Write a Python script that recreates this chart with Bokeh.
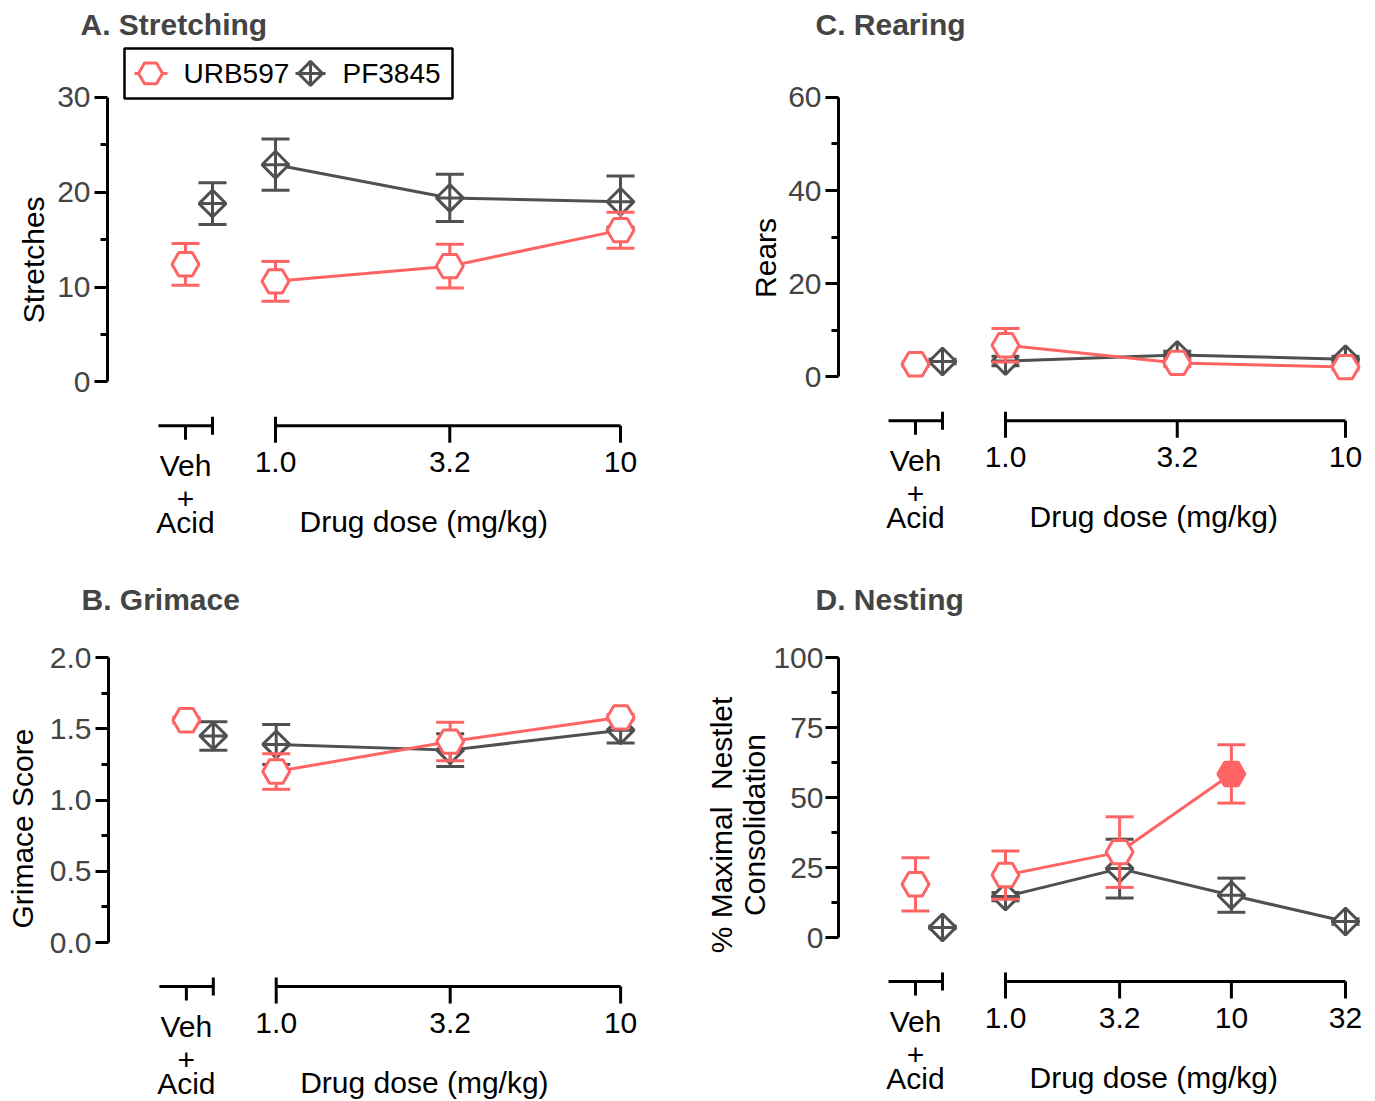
import numpy as np
from bokeh.plotting import figure
from bokeh.layouts import column, row
from bokeh.models import FixedTicker, PrintfTickFormatter
from bokeh.core.properties import value
from bokeh.embed import file_html
from bokeh.resources import INLINE

FONT = "Liberation Sans"
URB_COLOR = "#FF6464"
PF_COLOR = "#505050"

# ---------------- data ----------------
doses_3 = [1.0, 3.2, 10.0]
doses_4 = [1.0, 3.2, 10.0, 32.0]
dose_labels_3 = ["1.0", "3.2", "10"]
dose_labels_4 = ["1.0", "3.2", "10", "32"]

# A. Stretching (stretches, mean and SEM)
stretch_veh_urb, stretch_veh_urb_sem = 12.4, 2.2
stretch_veh_pf, stretch_veh_pf_sem = 18.8, 2.2
stretch_urb = [10.6, 12.2, 16.0]
stretch_urb_sem = [2.1, 2.3, 1.9]
stretch_pf = [22.9, 19.4, 19.0]
stretch_pf_sem = [2.7, 2.5, 2.7]

# B. Grimace (score)
grim_veh_urb, grim_veh_urb_sem = 1.56, 0.02
grim_veh_pf, grim_veh_pf_sem = 1.45, 0.10
grim_urb = [1.20, 1.41, 1.58]
grim_urb_sem = [0.125, 0.135, 0.02]
grim_pf = [1.39, 1.35, 1.49]
grim_pf_sem = [0.14, 0.115, 0.09]

# C. Rearing (rears)
rear_veh_urb, rear_veh_urb_sem = 2.7, 0.5
rear_veh_pf, rear_veh_pf_sem = 3.3, 0.5
rear_urb = [6.8, 3.0, 2.1]
rear_urb_sem = [3.6, 0.8, 0.6]
rear_pf = [3.4, 4.7, 3.8]
rear_pf_sem = [1.0, 0.8, 0.6]

# D. Nesting (% maximal nestlet consolidation)
nest_veh_urb, nest_veh_urb_sem = 19.0, 9.5
nest_veh_pf, nest_veh_pf_sem = 3.6, 0.5
nest_urb = [22.3, 30.5, 58.4]
nest_urb_sem = [8.6, 12.6, 10.4]
nest_urb_filled = [False, False, True]
nest_pf = [14.6, 24.6, 15.1, 5.7]
nest_pf_sem = [1.5, 10.5, 6.1, 1.0]


def styled_text(p, xs, ys, texts, size="30px", align="center", baseline="middle",
                style="normal", angle=0):
    p.text(x=xs, y=ys, text=texts, text_font=value(FONT), text_font_size=size,
           text_align=align, text_baseline=baseline, text_color="black",
           text_font_style=style, angle=angle)


def bare_figure(W, H, xr, yr, **kw):
    p = figure(width=W, height=H, x_range=xr, y_range=yr, output_backend="svg",
               toolbar_location=None, x_axis_location=None, **kw)
    p.outline_line_color = None
    p.grid.visible = False
    p.background_fill_color = "white"
    p.border_fill_color = "white"
    return p


def ylabel_figure(lines, xs, y_px, W, H):
    # narrow strip holding the rotated y-axis title, centred on the bounded axis
    q = bare_figure(W, H, (0, W), (0, H), title=None, y_axis_location=None,
                    min_border_left=0, min_border_right=0, min_border_top=0, min_border_bottom=0)
    styled_text(q, xs, [H - y_px] * len(xs), lines, angle=np.pi / 2)
    return q


def draw_series(p, xs, means, sems, color, marker, size, angle, connect, fills=None):
    xs = list(xs)
    lo = [m - s for m, s in zip(means, sems)]
    hi = [m + s for m, s in zip(means, sems)]
    p.segment(x0=xs, y0=lo, x1=xs, y1=hi, line_color=color, line_width=3)
    p.scatter(x=xs + xs, y=lo + hi, marker="dash", size=28, line_color=color, line_width=3)
    if connect:
        p.line(x=xs, y=means, line_color=color, line_width=3)
    if fills is None:
        fills = ["white"] * len(xs)
    p.scatter(x=xs, y=means, marker=marker, size=size, angle=angle, line_color=color,
              fill_color=fills, line_width=3)


def build_panel(title, ylabel_lines, g, ymax, yticks, yminor, tick_fmt,
                veh_urb, veh_pf, doses, dose_labels, urb, urb_sem, pf, pf_sem,
                pf_doses=None, urb_fills=None, legend=False):
    W, H, Lw = g["w"], g["h"], g["label_w"]
    fl, ft = g["frame_left"], g["frame_top"]
    a1, aN = g["x1_px"], g["xN_px"]
    top_dose = (pf_doses or doses)[-1]
    sx = (aN - a1) / np.log10(top_dose)
    x_start = -(a1 - fl) / sx
    x_end = (W - a1) / sx
    p0, p1 = g["y0_px"], g["ytop_px"]
    sy = (p0 - p1) / ymax
    y_end = ymax + (p1 - ft) / sy
    y_start = -(H - p0) / sy

    def X(px):
        return x_start + (px - fl) / sx

    def Y(py):
        return y_end - (py - ft) / sy

    p = bare_figure(W - Lw, H, (x_start, x_end), (y_start, y_end),
                    min_border_left=fl - Lw, min_border_top=ft, min_border_right=0,
                    min_border_bottom=0)

    p.title.text = title
    p.title.text_font = FONT
    p.title.text_font_size = "30px"
    p.title.text_font_style = "bold"
    p.title.align = "left"
    p.title.offset = g["title_offset"]

    ax = p.yaxis[0]
    ax.bounds = (0, ymax)
    ax.ticker = FixedTicker(ticks=yticks, minor_ticks=yminor)
    if tick_fmt:
        ax.formatter = PrintfTickFormatter(format=tick_fmt)
    ax.axis_line_width = 3
    ax.major_tick_line_width = 3
    ax.minor_tick_line_width = 3
    ax.major_tick_out = 13
    ax.major_tick_in = 0
    ax.minor_tick_out = 7
    ax.minor_tick_in = 0
    ax.major_label_text_font = FONT
    ax.major_label_text_font_size = "30px"
    ax.major_label_standoff = g["tick_standoff"]

    # broken x axis: vehicle segment and dose segment
    ya = Y(p0 + 44)
    veh_l, veh_t, veh_r = X(a1 - 117), X(a1 - 90), X(a1 - 63)
    dose_x = [float(np.log10(d)) for d in (pf_doses or doses)]
    p.segment(x0=[veh_l, dose_x[0]], y0=[ya, ya], x1=[veh_r, dose_x[-1]], y1=[ya, ya],
              line_color="black", line_width=3)
    p.segment(x0=[veh_t, veh_r, dose_x[0]] + dose_x[1:],
              y0=[ya, Y(p0 + 35), Y(p0 + 35)] + [ya] * (len(dose_x) - 1),
              x1=[veh_t, veh_r, dose_x[0]] + dose_x[1:],
              y1=[Y(p0 + 58), Y(p0 + 53), Y(p0 + 61)] + [Y(p0 + 61)] * (len(dose_x) - 1),
              line_color="black", line_width=3)
    styled_text(p, dose_x, [Y(p0 + 80)] * len(dose_x), dose_labels)
    styled_text(p, [veh_t, veh_t, veh_t], [Y(p0 + 84), Y(p0 + 117), Y(p0 + 141)],
                ["Veh", "+", "Acid"])
    styled_text(p, [X(a1 + 24)], [Y(p0 + 140)], ["Drug dose (mg/kg)"], align="left")

    # PF3845 first, URB597 drawn over it
    draw_series(p, [X(a1 - 63)], [veh_pf[0]], [veh_pf[1]], PF_COLOR, "square_x", 19, np.pi / 4, False)
    draw_series(p, dose_x, pf, pf_sem, PF_COLOR, "square_x", 19, np.pi / 4, True)
    urb_x = [float(np.log10(d)) for d in doses]
    fills = None
    if urb_fills is not None:
        fills = [URB_COLOR if f else "white" for f in urb_fills]
    draw_series(p, [X(a1 - 90)], [veh_urb[0]], [veh_urb[1]], URB_COLOR, "hex", 27, 0, False)
    draw_series(p, urb_x, urb, urb_sem, URB_COLOR, "hex", 27, 0, True, fills)

    if legend:
        p.quad(left=[X(124)], right=[X(452)], top=[Y(47)], bottom=[Y(97)],
               fill_color="white", line_color="black", line_width=2.5)
        yl = Y(72)
        p.segment(x0=[X(134), X(295)], y0=[yl, yl], x1=[X(167), X(325)], y1=[yl, yl],
                  line_color=[URB_COLOR, PF_COLOR], line_width=3)
        p.scatter(x=[X(150)], y=[yl], marker="hex", size=24, line_color=URB_COLOR,
                  fill_color="white", line_width=3)
        p.scatter(x=[X(310)], y=[yl], marker="square_x", size=17, angle=np.pi / 4,
                  line_color=PF_COLOR, fill_color="white", line_width=3)
        styled_text(p, [X(183), X(342)], [yl, yl], ["URB597", "PF3845"], size="28px", align="left")

    lab = ylabel_figure(ylabel_lines, g["label_x"], g["label_y"], Lw, H)
    return row(lab, p)


geom_a = dict(w=687, h=560, label_w=50, frame_left=107, frame_top=44, x1_px=275, xN_px=620,
              y0_px=381, ytop_px=96, title_offset=-27, label_x=[33], label_y=233,
              tick_standoff=4)
geom_c = dict(w=688, h=560, label_w=98, frame_left=151, frame_top=44, x1_px=318, xN_px=658,
              y0_px=376, ytop_px=96, title_offset=-23, label_x=[78], label_y=231,
              tick_standoff=4)
geom_b = dict(w=687, h=541, label_w=46, frame_left=107, frame_top=60, x1_px=275, xN_px=620,
              y0_px=382, ytop_px=97, title_offset=-27, label_x=[22], label_y=234,
              tick_standoff=4)
geom_d = dict(w=688, h=541, label_w=83, frame_left=151, frame_top=60, x1_px=318, xN_px=658,
              y0_px=377, ytop_px=97, title_offset=-23, label_x=[34, 67], label_y=230,
              tick_standoff=2)

pa = build_panel("A. Stretching", ["Stretches"], geom_a, 30, [0, 10, 20, 30], [5, 15, 25], None,
                 (stretch_veh_urb, stretch_veh_urb_sem), (stretch_veh_pf, stretch_veh_pf_sem),
                 doses_3, dose_labels_3, stretch_urb, stretch_urb_sem, stretch_pf, stretch_pf_sem,
                 legend=True)
pc = build_panel("C. Rearing", ["Rears"], geom_c, 60, [0, 20, 40, 60], [10, 30, 50], None,
                 (rear_veh_urb, rear_veh_urb_sem), (rear_veh_pf, rear_veh_pf_sem),
                 doses_3, dose_labels_3, rear_urb, rear_urb_sem, rear_pf, rear_pf_sem)
pb = build_panel("B. Grimace", ["Grimace Score"], geom_b, 2.0, [0, 0.5, 1.0, 1.5, 2.0],
                 [0.25, 0.75, 1.25, 1.75], "%.1f",
                 (grim_veh_urb, grim_veh_urb_sem), (grim_veh_pf, grim_veh_pf_sem),
                 doses_3, dose_labels_3, grim_urb, grim_urb_sem, grim_pf, grim_pf_sem)
pd_ = build_panel("D. Nesting", ["% Maximal\u00a0\u00a0Nestlet", "Consolidation"], geom_d, 100,
                  [0, 25, 50, 75, 100], [12.5, 37.5, 62.5, 87.5], None,
                  (nest_veh_urb, nest_veh_urb_sem), (nest_veh_pf, nest_veh_pf_sem),
                  doses_3, dose_labels_4, nest_urb, nest_urb_sem, nest_pf, nest_pf_sem,
                  pf_doses=doses_4, urb_fills=nest_urb_filled)

layout = column(row(pa, pc), row(pb, pd_))
open("out.html", "w").write(file_html(layout, INLINE))
